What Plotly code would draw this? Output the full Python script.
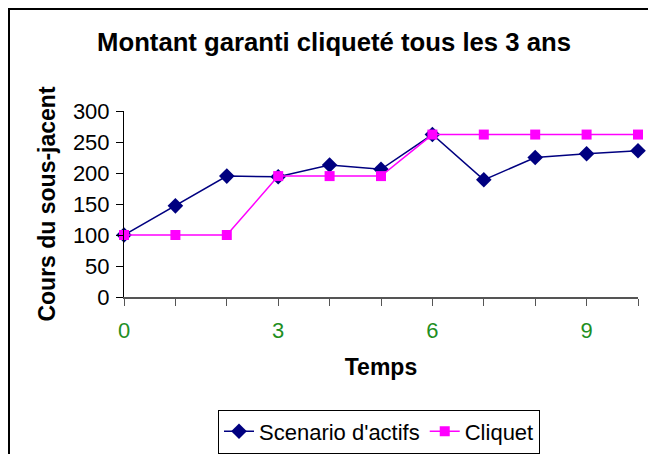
import plotly.graph_objects as go

temps = list(range(11))
scenario = [100, 147, 195, 194, 213, 206, 262, 189, 225, 231, 236]
cliquet = [100, 100, 100, 195, 195, 195, 262, 262, 262, 262, 262]
x_tick_vals = list(range(11))
x_tick_text = ["0", "", "", "3", "", "", "6", "", "", "9", ""]
y_tick_vals = [0, 50, 100, 150, 200, 250, 300]

FONT = "Liberation Sans, Arial, sans-serif"

fig = go.Figure()
fig.add_trace(go.Scatter(
    x=temps, y=scenario, name="Scenario d'actifs", mode="lines+markers",
    line=dict(color="#000080", width=1.5),
    marker=dict(symbol="diamond", size=12, color="#000080"),
    cliponaxis=False,
))
fig.add_trace(go.Scatter(
    x=temps, y=cliquet, name="Cliquet", mode="lines+markers",
    line=dict(color="#FF00FF", width=1.5),
    marker=dict(symbol="square", size=10, color="#FF00FF"),
    cliponaxis=False,
))

# page has an 8px body margin; figure drawn at (8,8)
W, H = 648, 446
L, R, T, B = 116, 18, 103, 157
pw, ph = W - L - R, H - T - B

fig.update_layout(
    width=W, height=H,
    margin=dict(l=L, r=R, t=T, b=B, autoexpand=False),
    paper_bgcolor="white", plot_bgcolor="white",
    font=dict(family=FONT, size=22, color="black"),
    title=dict(text="<b>Montant garanti cliqueté tous les 3 ans</b>",
               x=326 / W, xanchor="center", y=1 - 34 / H, yanchor="middle",
               font=dict(size=25.7, color="black", family=FONT)),
    showlegend=True,
    legend=dict(orientation="h", x=(371 - L) / pw, xanchor="center",
                y=-(423.5 - (T + ph)) / ph, yanchor="middle",
                bordercolor="black", borderwidth=1, bgcolor="white",
                font=dict(size=22, color="black"),
                itemwidth=30, tracegroupgap=0),
    xaxis=dict(range=[0, 10], tickvals=x_tick_vals, ticktext=x_tick_text,
               ticks="outside", ticklen=7, tickcolor="#555555",
               showline=True, linecolor="#555555", linewidth=1.5,
               showgrid=False, zeroline=False, automargin=False,
               ticklabelstandoff=6,
               tickfont=dict(color="#1f8f1f", size=22),
               title=dict(text="<b>Temps</b>", font=dict(size=23), standoff=17)),
    yaxis=dict(range=[0, 300], tickvals=y_tick_vals,
               ticks="outside", ticklen=7, tickcolor="black",
               showline=True, linecolor="black", linewidth=1,
               showgrid=False, zeroline=False, automargin=False,
               ticklabelstandoff=2,
               tickfont=dict(size=22),
               title=dict(text="<b>Cours du sous-jacent</b>", font=dict(size=23), standoff=10)),
    shapes=[dict(type="rect", xref="paper", yref="paper",
                 x0=(0.5 - L) / pw, x1=2, y0=-3, y1=1 + (T - 0.5) / ph,
                 line=dict(color="black", width=3), layer="below")],
)

fig.write_html("out.html")
